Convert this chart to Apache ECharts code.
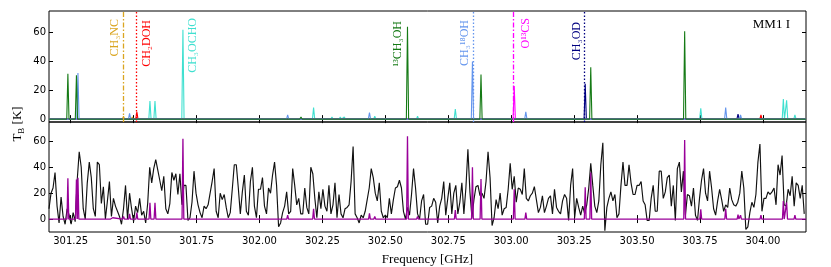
<!DOCTYPE html>
<html><head><meta charset="utf-8">
<script src="https://cdn.jsdelivr.net/npm/echarts@6/dist/echarts.min.js"></script>
<style>html,body{margin:0;padding:0;background:#fff}#c{width:831px;height:267px}</style>
</head><body><div id="c"></div>
<script>
// ---------------- data ----------------
const X_MIN = 301.164, X_MAX = 304.171;
const freqTicks = [301.25,301.5,301.75,302.0,302.25,302.5,302.75,303.0,303.25,303.5,303.75,304.0];
const tbTicks = [0,20,40,60];

// top panel: individual molecule line spectra (peak frequency [GHz], peak T_B [K])
const ch3ncFreq = [301.352,301.412,301.460,301.495,301.524];
const ch3ncTb   = [1,1,2,1.5,1];
const ch2dohFreq = [301.513,302.423,303.992];
const ch2dohTb   = [5,1,3];
const ch3ochoFreq = [301.565,301.585,301.619,301.696,301.905,302.215,302.288,302.321,302.337,302.458,302.628,302.778,303.753,303.788,303.837,303.944,304.081,304.094,304.127];
const ch3ochoTb   = [12.5,12.5,1,62,1,8,1.5,1.5,1.5,2,2,7,7.5,1,1,1,14,13,3];
const ch3o18hFreq = [301.279,301.417,301.484,301.937,302.112,302.437,302.714,302.846,303.058,303.103,303.852,303.911];
const ch3o18hTb   = [32,1,4,1,3,4.5,1,40,5,1,8,3];
const c13h3ohFreq = [301.239,301.273,302.165,302.588,302.880,303.316,303.689];
const c13h3ohTb   = [31.5,30.5,1.5,64,31,36,61];
const o13csFreq = [303.012];
const o13csTb   = [23];
const ch3odFreq = [303.294,303.901];
const ch3odTb   = [24.5,3.5];

// labelled transitions
const labelText = ['CH₃NC','CH₂DOH','CH₃OCHO','¹³CH₃OH','CH₃¹⁸OH','O¹³CS','CH₃OD'];
const labelFreq = [301.460,301.513,301.696,302.588,302.846,303.012,303.294];

// bottom panel: observed spectrum, regular channels
const OBS_START = 301.164, OBS_STEP = 0.008;
const obsTb = [
 8,20,24,36,10,-3,17,2,-4,8,3,-4,5,-2,30,52,40,8,0,28,44,32,8,2,44,42,12,25,0,14,29,2,16,10,6,2,-4,8,26,0,20,8,-2,10,5,16,3,6,-3,12,40,28,39,46,38,30,22,33,8,4,12,36,30,
 35,19,35,11,26,26,-1,1,13,37,20,11,5,1,10,8,11,20,29,39,6,1,20,15,19,9,1,5,23,42,42,24,4,21,34,6,3,29,40,10,1,23,23,32,10,4,24,20,34,44,26,-6,-3,5,10,21,4,6,39,26,11,16,4,
 4,24,9,4,40,35,16,1,21,8,23,10,6,26,4,11,28,1,19,4,1,8,9,11,29,56,4,1,-3,3,1,6,15,24,39,32,20,14,28,6,1,3,1,16,4,15,24,25,30,24,6,0,9,3,19,39,24,4,0,14,19,-4,
 -4,9,10,16,13,-3,10,16,29,3,16,28,4,20,26,4,13,28,4,24,54,21,1,15,25,26,18,20,16,29,52,32,-5,1,15,8,20,3,8,9,23,43,23,33,13,24,23,19,39,16,14,18,20,25,15,5,9,18,5,10,16,18,
 4,23,9,6,4,14,19,16,-1,26,39,1,16,9,3,10,4,11,24,43,26,10,5,14,42,59,-9,9,16,21,14,19,1,4,26,44,26,26,42,28,19,19,26,26,29,14,11,-1,-1,16,26,6,6,37,37,16,21,32,34,10,26,-1,39,
 44,21,37,3,19,18,10,24,3,-1,16,30,39,20,14,37,24,8,3,14,23,15,6,11,9,24,15,11,10,13,20,37,24,-8,-6,5,13,9,19,44,58,6,16,16,21,19,21,24,11,42,34,49,11,10,23,18,33,10,28,26,16,26,4
];

// ---------------- styles ----------------
const SERIF = "'Liberation Serif','DejaVu Serif',serif";
const SANS = "'DejaVu Sans',sans-serif";
const HALF_W = 0.0045;
const components = [
  {freq: ch3ncFreq,   tb: ch3ncTb,   color: '#daa520', marker: 301.460, dash: [5,2,1.5,2]},
  {freq: ch2dohFreq,  tb: ch2dohTb,  color: '#ff0000', marker: 301.513, dash: [1.5,2]},
  {freq: ch3ochoFreq, tb: ch3ochoTb, color: '#40e0d0'},
  {freq: ch3odFreq,   tb: ch3odTb,   color: '#000080', marker: 303.294, dash: [1.5,2]},
  {freq: o13csFreq,   tb: o13csTb,   color: '#ff00ff', marker: 303.012, dash: [5,2,1.5,2]},
  {freq: ch3o18hFreq, tb: ch3o18hTb, color: '#6495ed', marker: 302.846, dash: [1.5,2]},
  {freq: c13h3ohFreq, tb: c13h3ohTb, color: '#157a15'}
];
const labelColor = ['#daa520','#ff0000','#40e0d0','#157a15','#6495ed','#ff00ff','#000080'];
const labelDx = [-8.5, 9.5, 9.5, -9.5, -8, 12, -8];
const labelTopY = [19, 20, 18, 21, 20, 18, 22];

function spikes(freq, tb, w) {
  const idx = freq.map((f,i)=>i).sort((a,b)=>freq[a]-freq[b]);
  const pts = [[X_MIN,0]];
  idx.forEach(i => { pts.push([freq[i]-w,0],[freq[i],tb[i]],[freq[i]+w,0]); });
  pts.push([X_MAX,0]);
  return pts;
}

const allFreq = [], allTb = [];
components.forEach(c => { c.freq.forEach((f,i)=>{ allFreq.push(f); allTb.push(c.tb[i]); }); });

const tickCommon = {inside:true, length:4, lineStyle:{color:'#000', width:1}};
function xAx(grid, pos, labels) {
  return {gridIndex:grid, type:'value', min:X_MIN, max:X_MAX, position:pos,
    axisLine:{show:false}, splitLine:{show:false},
    axisTick:Object.assign({customValues:freqTicks}, tickCommon),
    axisLabel: labels ? {customValues:freqTicks, formatter:v=>v.toFixed(2), margin:4,
      fontFamily:SANS, fontSize:10, color:'#000'} : {show:false},
    name: labels ? 'Frequency [GHz]' : '', nameLocation:'middle', nameGap:21,
    nameTextStyle:{fontFamily:SERIF, fontSize:13, color:'#000'}};
}
function yAx(grid, pos, min, labels) {
  return {gridIndex:grid, type:'value', min:min, max:75, position:pos,
    axisLine:{show:false}, splitLine:{show:false},
    axisTick:Object.assign({customValues:tbTicks}, tickCommon),
    axisLabel: labels ? {customValues:tbTicks, margin:3, fontFamily:SANS, fontSize:10, color:'#000'} : {show:false}};
}

const series = [];
components.forEach(c => {
  const s = {type:'line', xAxisIndex:0, yAxisIndex:0, data:spikes(c.freq, c.tb, HALF_W),
    showSymbol:false, symbol:'none', lineStyle:{color:c.color, width:1.1}, silent:true, animation:false};
  if (c.marker !== undefined) {
    s.markLine = {silent:true, symbol:['none','none'], label:{show:false}, animation:false,
      emphasis:{disabled:true},
      lineStyle:{color:c.color, type:c.dash, width:1.3, opacity:1}, data:[{xAxis:c.marker}]};
  }
  series.push(s);
});
series.push({type:'line', xAxisIndex:2, yAxisIndex:2,
  data: obsTb.map((v,i)=>[OBS_START + i*OBS_STEP, v]),
  showSymbol:false, symbol:'none', lineStyle:{color:'#111', width:1.15}, silent:true, animation:false, z:2});
series.push({type:'line', xAxisIndex:2, yAxisIndex:2,
  data: spikes(allFreq, allTb, 0.0035),
  showSymbol:false, symbol:'none', lineStyle:{color:'#990099', width:1.3}, silent:true, animation:false, z:3});

const chart = echarts.init(document.getElementById('c'), null, {renderer:'canvas'});
chart.setOption({
  animation:false,
  backgroundColor:'#fff',
  grid:[
    {left:49, right:25, top:11, height:111, show:true, borderColor:'#000', borderWidth:1},
    {left:49, right:25, top:122, height:112, show:true, borderColor:'#000', borderWidth:1}
  ],
  xAxis:[xAx(0,'bottom',false), xAx(0,'top',false), xAx(1,'bottom',true), xAx(1,'top',false)],
  yAxis:[yAx(0,'left',-2,true), yAx(0,'right',-2,false), yAx(1,'left',-10,true), yAx(1,'right',-10,false)],
  series: series
});

const graphics = [];
labelText.forEach((t,i) => {
  const px = chart.convertToPixel({xAxisIndex:0}, labelFreq[i]);
  graphics.push({type:'text', x:px + labelDx[i], y:labelTopY[i], rotation:Math.PI/2, silent:true,
    style:{text:t, fill:labelColor[i], font:'12px ' + SERIF, align:'right', verticalAlign:'middle'}});
});
graphics.push({type:'text', x:790, y:25, silent:true,
  style:{text:'MM1 I', fill:'#000', font:'13px ' + SERIF, align:'right', verticalAlign:'middle'}});
graphics.push({type:'text', x:18, y:124, rotation:Math.PI/2, silent:true,
  style:{text:'{t|T}{s|B}{t| [K]}', align:'center', verticalAlign:'middle',
    rich:{t:{fontSize:13, fontFamily:SERIF, fill:'#000', lineHeight:16},
          s:{fontSize:9, fontFamily:SERIF, fill:'#000', lineHeight:10, verticalAlign:'bottom'}}}});
chart.setOption({graphic:graphics});
</script>
</body></html>
